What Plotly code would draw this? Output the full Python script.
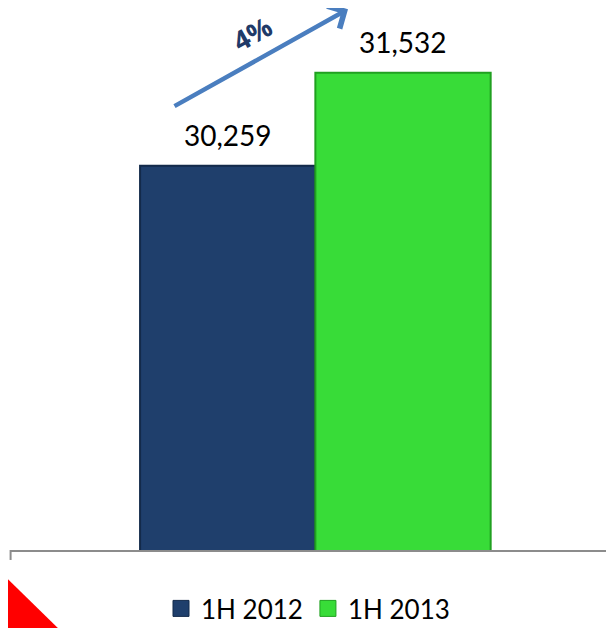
import plotly.graph_objects as go

categories = ["1H 2012", "1H 2013"]
values = [30259, 31532]
value_labels = ["30,259", "31,532"]
bar_colors = ["#1F3F6C", "#38DC38"]
edge_colors = ["#132A4A", "#20A020"]
growth_label = "4%"

W, H = 598, 624
ml, mr, mt, mb = 2, 0, 0, 69
PH = H - mt - mb  # 555
PW = W - ml - mr  # 596
y_base = 25000
y_top = 32420


def py(v):
    return (PH - v) / PH


def px(v):
    return (v - ml) / PW


fig = go.Figure()
for i, cat in enumerate(categories):
    fig.add_trace(go.Bar(
        x=[cat], y=[values[i]], name=cat, width=1.0,
        marker=dict(color=bar_colors[i], line=dict(color=edge_colors[i], width=2)),
        showlegend=False,
    ))
for i, cat in enumerate(categories):
    fig.add_trace(go.Scatter(
        x=[None], y=[None], mode="markers", name=cat,
        marker=dict(symbol="square", size=16, color=bar_colors[i],
                    line=dict(color=edge_colors[i], width=1)),
        showlegend=True,
    ))

for i, cat in enumerate(categories):
    fig.add_annotation(
        x=cat, y=values[i], text=value_labels[i], showarrow=False,
        xref="x", yref="y", xanchor="center", yanchor="bottom", yshift=12,
        font=dict(family="Lato", size=28, color="#000000"),
    )

fig.add_annotation(
    x=px(340), y=py(1.2), xref="paper", yref="paper",
    ax=-175, ay=97.8, text="", showarrow=True,
    arrowhead=4, arrowsize=1.1, arrowwidth=4.5, arrowcolor="#4A7EBF",
)
fig.add_annotation(
    x=px(244), y=py(25.6), xref="paper", yref="paper",
    xanchor="center", yanchor="middle",
    text="<b>" + growth_label + "</b>", showarrow=False, textangle=-29,
    font=dict(family="Open Sans", size=27, color="#1F3A68"),
)

fig.add_shape(type="line", xref="paper", yref="paper", x0=0.001, x1=0.001,
              y0=0.0, y1=-10.2 / PH, line=dict(color="#8C8C8C", width=2))
fig.add_shape(type="path", xref="paper", yref="paper",
              path=f"M {px(-8)},{py(577)} L {px(64)},{py(649)} L {px(-8)},{py(649)} Z",
              fillcolor="#FF0000", line=dict(width=0), layer="above")

fig.update_layout(
    width=W, height=H,
    margin=dict(l=ml, r=mr, t=mt, b=mb, pad=0),
    paper_bgcolor="white", plot_bgcolor="white",
    barmode="overlay",
    font=dict(family="Lato", color="#000000"),
    xaxis=dict(range=[-1.242, 2.158], showline=True, linecolor="#8C8C8C", linewidth=2,
               showticklabels=False, ticks="", showgrid=False, zeroline=False,
               fixedrange=True),
    yaxis=dict(range=[y_base, y_top], visible=False, showgrid=False, zeroline=False),
    legend=dict(orientation="h", x=0.5, xanchor="center", y=py(615), yanchor="middle",
                font=dict(family="Lato", size=26, color="#000000"),
                bgcolor="rgba(0,0,0,0)", itemsizing="trace"),
    showlegend=True,
)

fig.write_html("out.html")
